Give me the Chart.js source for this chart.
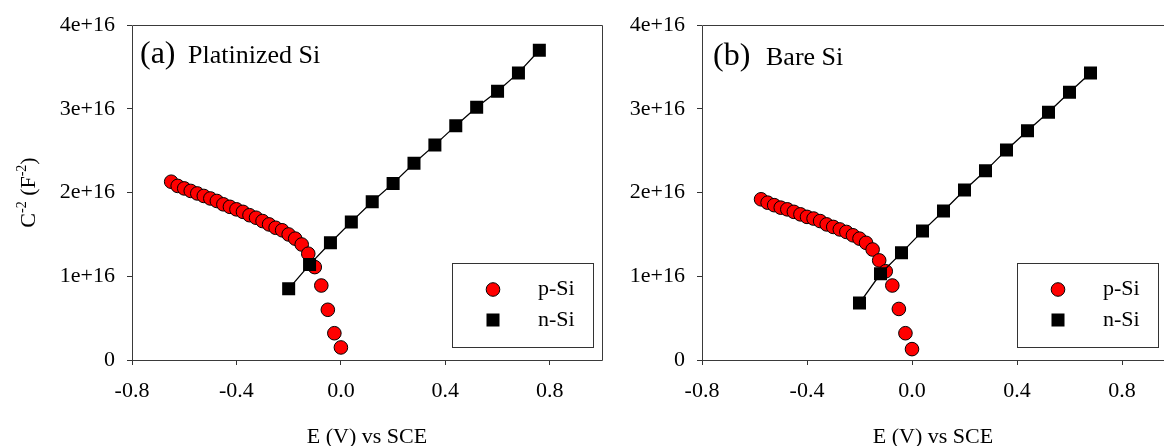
<!DOCTYPE html>
<html>
<head>
<meta charset="utf-8">
<script src="https://cdn.jsdelivr.net/npm/chart.js"></script>
<style>
  body { margin: 0; background: #fff; width: 1164px; height: 446px; overflow: hidden; position: relative; }
  canvas { position: absolute; top: 0; }
</style>
</head>
<body>
<canvas id="chartA" width="610" height="446" style="left:0"></canvas>
<canvas id="chartB" width="554" height="446" style="left:610px"></canvas>
<script>
const xTicks = [-0.8, -0.4, 0.0, 0.4, 0.8];
const yTicks = [0, 1e16, 2e16, 3e16, 4e16];

// (a) platinized Si
const pSiA_E = [-0.650, -0.625, -0.600, -0.575, -0.550, -0.525, -0.500, -0.475, -0.450, -0.425,
                -0.400, -0.375, -0.350, -0.325, -0.300, -0.275, -0.250, -0.225, -0.200, -0.175,
                -0.150, -0.125, -0.100, -0.075, -0.050, -0.025, 0.000];
const pSiA_C = [2.13e16, 2.08e16, 2.05e16, 2.02e16, 1.99e16, 1.96e16, 1.93e16, 1.90e16, 1.86e16, 1.83e16,
                1.80e16, 1.77e16, 1.73e16, 1.70e16, 1.66e16, 1.62e16, 1.58e16, 1.55e16, 1.50e16, 1.45e16,
                1.38e16, 1.27e16, 1.11e16, 0.89e16, 0.60e16, 0.32e16, 0.15e16];
const nSiA_E = [-0.20, -0.12, -0.04, 0.04, 0.12, 0.20, 0.28, 0.36, 0.44, 0.52, 0.60, 0.68, 0.76];
const nSiA_C = [0.85e16, 1.14e16, 1.40e16, 1.65e16, 1.89e16, 2.11e16, 2.35e16, 2.57e16, 2.80e16,
                3.02e16, 3.21e16, 3.43e16, 3.70e16];

// (b) bare Si
const pSiB_E = [-0.575, -0.550, -0.525, -0.500, -0.475, -0.450, -0.425, -0.400, -0.375, -0.350,
                -0.325, -0.300, -0.275, -0.250, -0.225, -0.200, -0.175, -0.150, -0.125, -0.100,
                -0.075, -0.050, -0.025, 0.000];
const pSiB_C = [1.92e16, 1.88e16, 1.85e16, 1.82e16, 1.80e16, 1.77e16, 1.74e16, 1.71e16, 1.69e16, 1.66e16,
                1.62e16, 1.59e16, 1.56e16, 1.53e16, 1.49e16, 1.45e16, 1.40e16, 1.32e16, 1.19e16, 1.06e16,
                0.89e16, 0.61e16, 0.32e16, 0.13e16];
const nSiB_E = [-0.20, -0.12, -0.04, 0.04, 0.12, 0.20, 0.28, 0.36, 0.44, 0.52, 0.60, 0.68];
const nSiB_C = [0.68e16, 1.03e16, 1.28e16, 1.54e16, 1.78e16, 2.03e16, 2.26e16, 2.51e16, 2.74e16,
                2.96e16, 3.20e16, 3.43e16];

const SERIF = '"Liberation Serif", "Times New Roman", serif';
Chart.defaults.font.family = SERIF;
Chart.defaults.color = '#000';

const toPts = (xs, ys) => xs.map((x, i) => ({ x: x, y: ys[i] }));

// frame, panel tag, legend box and y title
const panelPlugin = {
  id: 'panel',
  afterDraw(chart, args, o) {
    const ctx = chart.ctx;
    const xs = chart.scales.x, ys = chart.scales.y;
    const L = Math.round(xs.left), R = Math.round(xs.right);
    const T = Math.round(ys.top), B = Math.round(ys.bottom);
    ctx.save();
    ctx.strokeStyle = '#3a3a3a';
    ctx.lineWidth = 1;
    ctx.beginPath();
    ctx.moveTo(R + 0.5, T + 0.5);
    ctx.lineTo(L + 0.5, T + 0.5);
    ctx.lineTo(L + 0.5, B + 0.5);
    ctx.lineTo(R + 0.5, B + 0.5);
    if (o.closeRight) ctx.lineTo(R + 0.5, T + 0.5);
    ctx.stroke();

    ctx.fillStyle = '#000';
    ctx.textBaseline = 'alphabetic';
    ctx.textAlign = 'left';
    ctx.font = '32px ' + SERIF;
    ctx.fillText(o.tag, L + o.tagDx, T + o.tagDy);
    ctx.font = '26px ' + SERIF;
    ctx.fillText(o.name, L + o.nameDx, T + o.tagDy);

    // legend
    const bx = L + o.legDx, by = 263, bw = 141, bh = 84;
    ctx.strokeStyle = '#333';
    ctx.strokeRect(bx + 0.5, by + 0.5, bw, bh);
    const p = chart.data.datasets[1], n = chart.data.datasets[0];
    ctx.beginPath();
    ctx.arc(bx + 41, by + 26.5, p.pointRadius, 0, Math.PI * 2);
    ctx.fillStyle = p.backgroundColor;
    ctx.fill();
    ctx.strokeStyle = '#000';
    ctx.stroke();
    const s = n.pointRadius * Math.SQRT1_2;
    ctx.fillStyle = n.backgroundColor;
    ctx.fillRect(bx + 41 - s, by + 57 - s, 2 * s, 2 * s);
    ctx.fillStyle = '#000';
    ctx.font = '22px ' + SERIF;
    ctx.textBaseline = 'middle';
    ctx.fillText(p.label, bx + 86, by + 26.5);
    ctx.fillText(n.label, bx + 86, by + 57);

    if (o.yTitle) {
      ctx.translate(27, (T + B) / 2);
      ctx.rotate(-Math.PI / 2);
      ctx.textBaseline = 'alphabetic';
      const parts = [['C', 22, 0], ['-2', 14, -9], [' (F', 22, 0], ['-2', 14, -9], [')', 22, 0]];
      let w = 0;
      parts.forEach(t => { ctx.font = t[1] + 'px ' + SERIF; w += ctx.measureText(t[0]).width; });
      let x = -w / 2;
      parts.forEach(t => {
        ctx.font = t[1] + 'px ' + SERIF;
        ctx.fillText(t[0], x, 7.5 + t[2]);
        x += ctx.measureText(t[0]).width;
      });
    }
    ctx.restore();
  }
};

function makePanel(id, pE, pC, nE, nC, axisW, padRight, xMax, panel) {
  return new Chart(document.getElementById(id), {
    type: 'scatter',
    data: {
      datasets: [
        {
          label: 'n-Si',
          data: toPts(nE, nC),
          showLine: true,
          borderColor: '#000',
          borderWidth: 1.3,
          backgroundColor: '#000',
          pointStyle: 'rect',
          pointRadius: 9.2,
          pointBorderWidth: 0
        },
        {
          label: 'p-Si',
          data: toPts(pE, pC),
          showLine: false,
          backgroundColor: '#ff0000',
          borderColor: '#000',
          pointRadius: 6.8,
          pointBorderWidth: 1
        }
      ]
    },
    options: {
      responsive: false,
      animation: false,
      devicePixelRatio: 1,
      layout: { autoPadding: false, padding: { left: 0, top: 22, right: padRight, bottom: 0 } },
      plugins: { legend: { display: false }, tooltip: { enabled: false }, panel: panel },
      scales: {
        x: {
          type: 'linear',
          min: -0.8,
          max: xMax,
          afterBuildTicks: s => { s.ticks = xTicks.map(v => ({ value: v })); },
          afterFit: s => { s.height = 86; s.paddingLeft = 0; s.paddingRight = 0; },
          ticks: { callback: v => v.toFixed(1), font: { size: 22 }, color: '#000', padding: 13,
                   autoSkip: false, maxRotation: 0 },
          grid: { drawOnChartArea: false, tickLength: 5, color: '#333' },
          border: { display: false },
          title: { display: true, text: 'E (V) vs SCE', font: { size: 22 }, color: '#000',
                   padding: { top: 0, bottom: -4 } }
        },
        y: {
          type: 'linear',
          min: 0,
          max: 4e16,
          afterBuildTicks: s => { s.ticks = yTicks.map(v => ({ value: v })); },
          afterFit: s => { s.width = axisW; },
          ticks: { callback: v => v === 0 ? '0' : (v / 1e16) + 'e+16', font: { size: 22 }, color: '#000',
                   padding: 12, autoSkip: false },
          grid: { drawOnChartArea: false, tickLength: 5, color: '#333' },
          border: { display: false }
        }
      }
    },
    plugins: [panelPlugin]
  });
}

makePanel('chartA', pSiA_E, pSiA_C, nSiA_E, nSiA_C, 132, 8, 1.0,
  { tag: '(a)', name: 'Platinized Si', tagDx: 8, nameDx: 56, tagDy: 38, legDx: 320, yTitle: true, closeRight: true });
// the right panel is cut off by the window edge in the original figure, so it stops at 0.96 V with no right border
makePanel('chartB', pSiB_E, pSiB_C, nSiB_E, nSiB_C, 92, 0, 0.96,
  { tag: '(b)', name: 'Bare Si', tagDx: 11, nameDx: 64, tagDy: 40, legDx: 315, yTitle: false, closeRight: false });
</script>
</body>
</html>
